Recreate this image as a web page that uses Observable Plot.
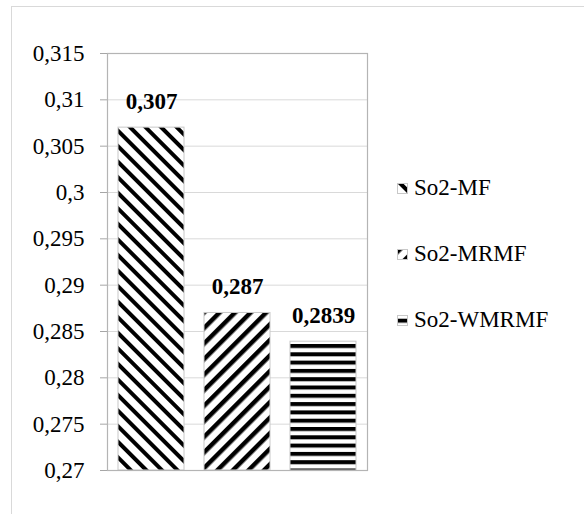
<!DOCTYPE html>
<html>
<head>
<meta charset="utf-8">
<script src="https://cdn.jsdelivr.net/npm/d3@7"></script>
<script src="https://cdn.jsdelivr.net/npm/@observablehq/plot@0.6"></script>
<style>
  body { margin: 0; background: #fff; overflow: hidden; }
  #wrap { position: relative; width: 584px; height: 514px; overflow: hidden;
          font-family: "Liberation Serif", "Times New Roman", serif; }
  #border { position: absolute; left: 11px; top: 6px; width: 700px; height: 700px;
            border: 1px solid #d9d9d9; box-sizing: border-box; }
  #chart { position: absolute; left: 0; top: 0; }
  .row { position: absolute; left: 397px; height: 30px; display: flex; align-items: center;
         font-size: 23px; color: #000; white-space: nowrap; }
  .row svg { margin-right: 6px; }
</style>
</head>
<body>
<!-- hatch fills shared by the bars and the legend swatches -->
<svg width="0" height="0" style="position:absolute">
  <defs>
    <pattern id="hatch-down" patternUnits="userSpaceOnUse" width="11" height="11" patternTransform="rotate(-45)">
      <rect width="11" height="11" fill="#fff"></rect>
      <rect x="0" width="4" height="11" fill="#000"></rect>
    </pattern>
    <pattern id="hatch-up" patternUnits="userSpaceOnUse" width="11" height="11" patternTransform="rotate(45)">
      <rect width="11" height="11" fill="#fff"></rect>
      <rect x="0" width="4.5" height="11" fill="#000"></rect>
    </pattern>
    <pattern id="hatch-horiz" patternUnits="userSpaceOnUse" x="0" y="3.7" width="20" height="8.3">
      <rect width="20" height="8.3" fill="#fff"></rect>
      <rect y="0" width="20" height="4" fill="#000"></rect>
    </pattern>
  </defs>
</svg>
<div id="wrap">
  <div id="border"></div>
  <div id="chart"></div>
</div>
<script>
// Series names, their values and their hatch fills
const series = ["So2-MF", "So2-MRMF", "So2-WMRMF"];
const values = [0.307, 0.287, 0.2839];
const fills = ["url(#hatch-down)", "url(#hatch-up)", "url(#hatch-horiz)"];

// Value axis
const yMin = 0.27;
const yMax = 0.315;
const yTicks = [0.27, 0.275, 0.28, 0.285, 0.29, 0.295, 0.3, 0.305, 0.31, 0.315];

const comma = (v) => String(+v.toFixed(4)).replace(".", ",");
const data = series.map((name, i) => ({name, value: values[i]}));

const plot = Plot.plot({
  width: 584,
  height: 514,
  marginTop: 53,
  marginBottom: 44,
  marginLeft: 107,
  marginRight: 217,
  style: {fontFamily: '"Liberation Serif", "Times New Roman", serif', fontSize: "23px", background: "transparent", color: "#000"},
  x: {domain: series, paddingInner: 0.23, paddingOuter: 0.115, axis: null},
  y: {domain: [yMin, yMax], label: null},
  color: {type: "ordinal", domain: series, range: fills},
  marks: [
    Plot.gridY(yTicks, {stroke: "#d9d9d9", strokeOpacity: 1, strokeWidth: 1}),
    Plot.barY(data, {x: "name", y1: yMin, y2: "value", fill: "name", stroke: "#c8c8c8", strokeWidth: 1}),
    Plot.frame({stroke: "#b4b4b4", strokeWidth: 1.2}),
    Plot.axisY(yTicks, {tickSize: 7, tickPadding: 16, tickFormat: comma, label: null,
                        stroke: "#a6a6a6", fill: "#000", fontSize: 23}),
    Plot.text(data, {x: "name", y: "value", text: (d) => comma(d.value), lineAnchor: "bottom", dy: -19,
                     fontWeight: "bold", fontSize: 23, fill: "#000"})
  ]
});
document.getElementById("chart").appendChild(plot);

// Legend on the right
const centers = [188, 254, 320];
const wrap = document.getElementById("wrap");
series.forEach((name, i) => {
  const row = document.createElement("div");
  row.className = "row";
  row.style.top = (centers[i] - 15) + "px";
  row.innerHTML = `<svg width="11" height="11"><rect x="0.5" y="0.5" width="10" height="10" fill="${fills[i]}" stroke="#c8c8c8"></rect></svg><span>${name}</span>`;
  wrap.appendChild(row);
});
</script>
</body>
</html>
